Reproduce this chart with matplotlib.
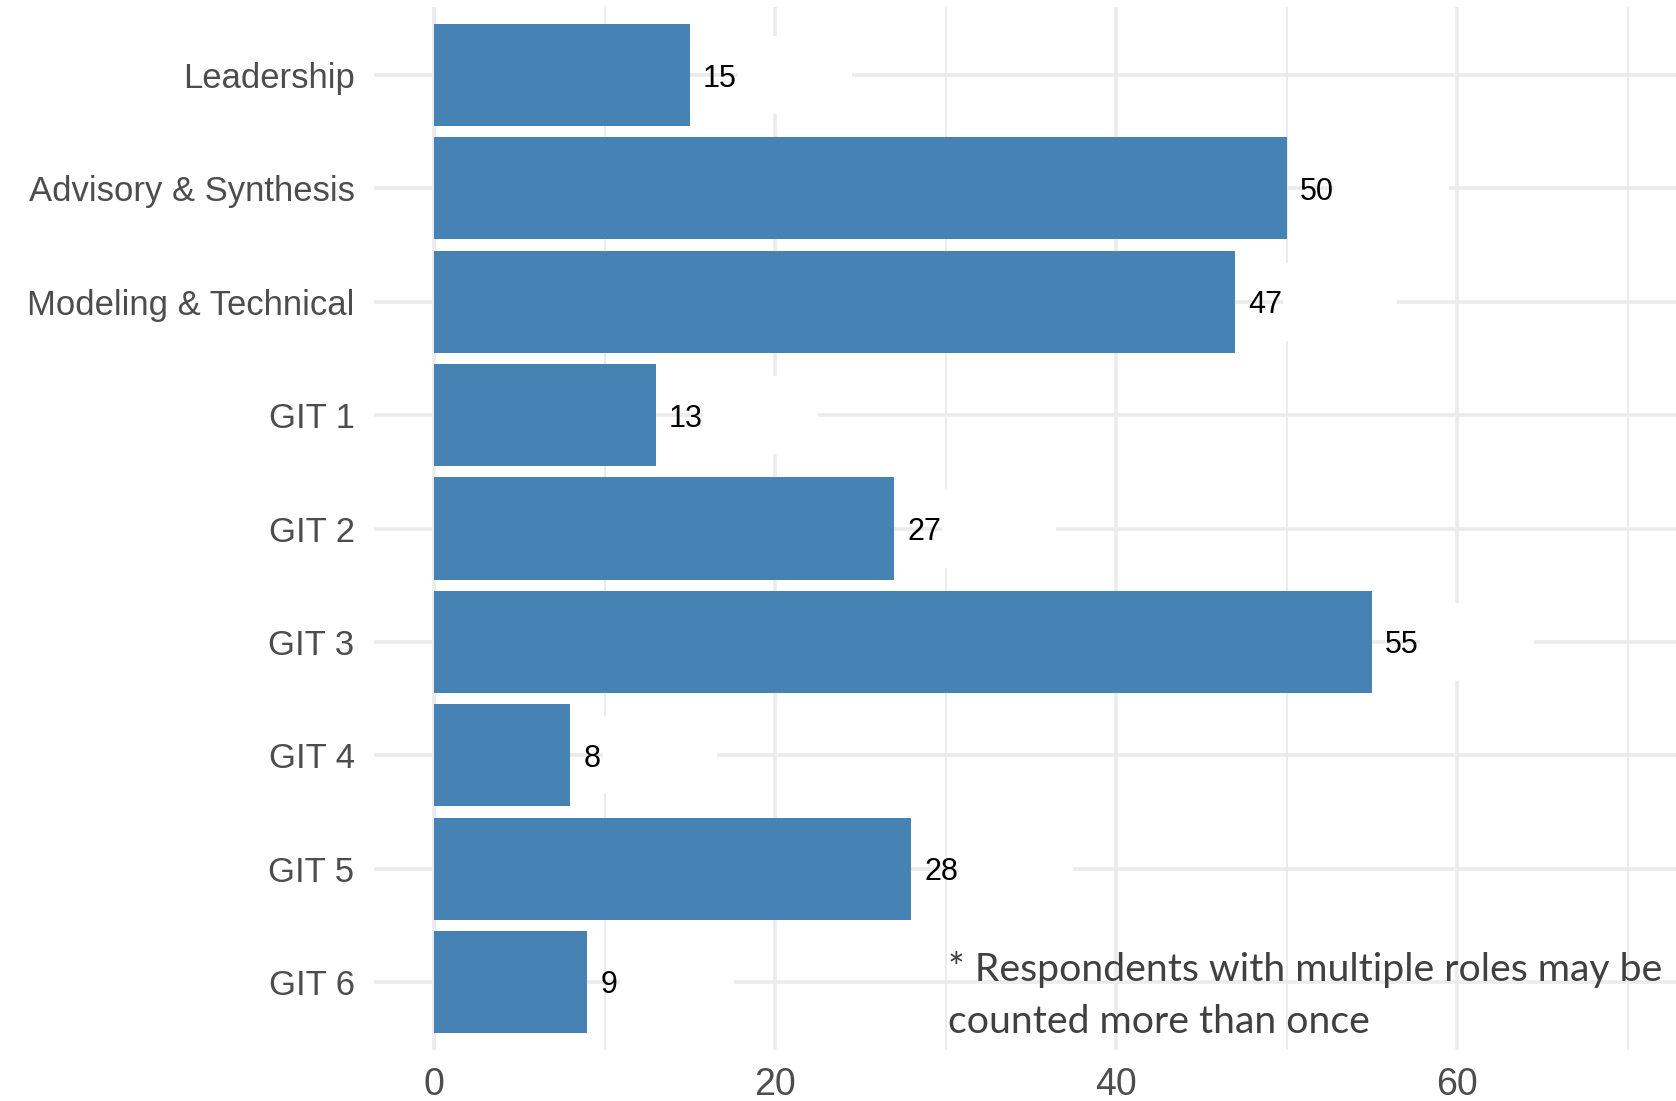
import numpy as np
import matplotlib.pyplot as plt
from matplotlib.patches import Rectangle

plt.rcParams['font.family'] = ['Liberation Sans', 'DejaVu Sans']

# data
roles = ["Leadership", "Advisory & Synthesis", "Modeling & Technical",
         "GIT 1", "GIT 2", "GIT 3", "GIT 4", "GIT 5", "GIT 6"]
counts = [15, 50, 47, 13, 27, 55, 8, 28, 9]
x_ticks = [0, 20, 40, 60]
note = "* Respondents with multiple roles may be\ncounted more than once"

bar_color = "#4682B4"
grid_color = "#EBEBEB"

fig = plt.figure(figsize=(16.76, 11.01), dpi=100)
ax = fig.add_axes([374 / 1676, 1 - 1050 / 1101, 1 - 374 / 1676, (1050 - 7) / 1101])

ypos = np.arange(len(roles))

# grid lines (ggplot minimal style)
for v in x_ticks:
    ax.axvline(v, color=grid_color, lw=2.6, zorder=0)
for v in [10, 30, 50, 70]:
    ax.axvline(v, color=grid_color, lw=1.4, zorder=0)
for y in ypos:
    ax.axhline(y, color=grid_color, lw=2.6, zorder=0)

ax.barh(ypos, counts, height=0.9, color=bar_color, zorder=2)

for y, c in zip(ypos, counts):
    lab = str(c)
    # white patches next to the labels
    start = c + 0.9 * len(lab) + 1.0
    ax.add_patch(Rectangle((start, y - 0.345), 6.7, 0.69, facecolor="white",
                           edgecolor="none", zorder=1.5))
    ax.text(c + 0.75, y, lab, va="center_baseline", ha="left",
            fontsize=22, color="black", zorder=3)

ax.set_xlim(-3.52, 72.84)
ax.set_ylim(len(roles) - 1 + 0.6, -0.6)
ax.set_yticks(ypos)
ax.set_yticklabels(roles, fontsize=24.9, color="#4D4D4D", va="center_baseline")
ax.set_xticks(x_ticks)
ax.set_xticklabels([str(t) for t in x_ticks], fontsize=27, color="#4D4D4D")
ax.tick_params(axis="both", length=0)
ax.tick_params(axis="y", pad=14)
ax.tick_params(axis="x", pad=12)
for s in ax.spines.values():
    s.set_visible(False)

fig.text(948 / 1676, 1 - 951 / 1101, note, ha="left", va="top",
         fontsize=28.3, family=["Lato", "DejaVu Sans"], color="#404040",
         linespacing=1.55)

fig.savefig("out.png", dpi=100)
